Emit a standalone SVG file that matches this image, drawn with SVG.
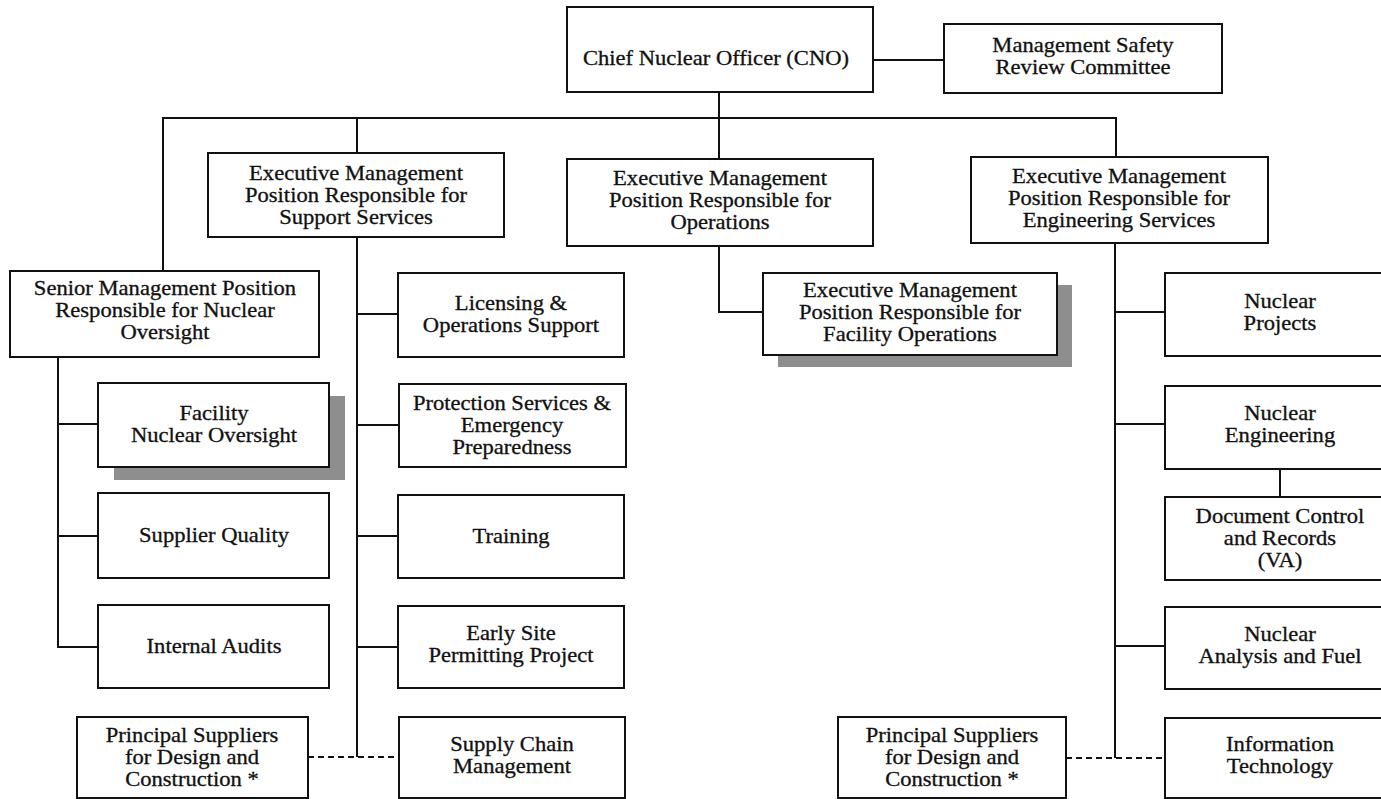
<svg xmlns="http://www.w3.org/2000/svg" width="1381" height="799" viewBox="0 0 1381 799">
<style>
.b{fill:#fff;stroke:#111;stroke-width:2}
.sh{fill:#8e8e8e;stroke:none}
.c{fill:none;stroke:#111;stroke-width:2}
.d{fill:none;stroke:#111;stroke-width:2;stroke-dasharray:6 4}
text{font-family:"Liberation Serif","Times New Roman",serif;font-size:20px;fill:#111;stroke:#111;stroke-width:0.3;text-anchor:middle}
</style>
<rect width="1381" height="799" fill="#fff"/>
<g id="connectors">
<path class="c" d="M873 60H944"/>
<path class="c" d="M719 92V159"/>
<path class="c" d="M163 271V118H1116V157"/>
<path class="c" d="M357 118V153"/>
<path class="c" d="M357 237V757"/>
<path class="c" d="M357 314H398M357 425H399M357 536H398M357 647H398"/>
<path class="d" d="M308 757H399"/>
<path class="c" d="M58 357V647H98M58 424H98M58 536H98"/>
<path class="c" d="M719 246V312H763"/>
<path class="c" d="M1115 243V758"/>
<path class="c" d="M1115 312H1165M1115 424H1165M1115 646H1165"/>
<path class="c" d="M1280 469V497"/>
<path class="d" d="M1066 758H1165"/>
</g>
<g id="cno"><rect class="b" x="567" y="7" width="306" height="85"/>
<g transform="translate(716 0) scale(1.13 1)"><text><tspan x="0" y="65">Chief Nuclear Officer (CNO)</tspan></text></g></g>
<g id="msrc"><rect class="b" x="944" y="24" width="278" height="69"/>
<g transform="translate(1083 0) scale(1.13 1)"><text><tspan x="0" y="52">Management Safety</tspan><tspan x="0" y="74">Review Committee</tspan></text></g></g>
<g id="support"><rect class="b" x="208" y="153" width="296" height="84"/>
<g transform="translate(356 0) scale(1.13 1)"><text><tspan x="0" y="180">Executive Management</tspan><tspan x="0" y="202">Position Responsible for</tspan><tspan x="0" y="224">Support Services</tspan></text></g></g>
<g id="operations"><rect class="b" x="567" y="159" width="306" height="87"/>
<g transform="translate(720 0) scale(1.13 1)"><text><tspan x="0" y="185">Executive Management</tspan><tspan x="0" y="207">Position Responsible for</tspan><tspan x="0" y="229">Operations</tspan></text></g></g>
<g id="engineering"><rect class="b" x="971" y="157" width="297" height="86"/>
<g transform="translate(1119 0) scale(1.13 1)"><text><tspan x="0" y="183">Executive Management</tspan><tspan x="0" y="205">Position Responsible for</tspan><tspan x="0" y="227">Engineering Services</tspan></text></g></g>
<g id="senior"><rect class="b" x="10" y="271" width="309" height="86"/>
<g transform="translate(165 0) scale(1.13 1)"><text><tspan x="0" y="295">Senior Management Position</tspan><tspan x="0" y="317">Responsible for Nuclear</tspan><tspan x="0" y="339">Oversight</tspan></text></g></g>
<g id="licensing"><rect class="b" x="398" y="273" width="226" height="84"/>
<g transform="translate(511 0) scale(1.13 1)"><text><tspan x="0" y="310">Licensing &amp;</tspan><tspan x="0" y="332">Operations Support</tspan></text></g></g>
<g id="facility-ops"><rect class="sh" x="778" y="285" width="294" height="82"/><rect class="b" x="763" y="273" width="294" height="82"/>
<g transform="translate(910 0) scale(1.13 1)"><text><tspan x="0" y="297">Executive Management</tspan><tspan x="0" y="319">Position Responsible for</tspan><tspan x="0" y="341">Facility Operations</tspan></text></g></g>
<g id="nuclear-projects"><rect class="b" x="1165" y="273" width="230" height="83"/>
<g transform="translate(1280 0) scale(1.13 1)"><text><tspan x="0" y="308">Nuclear</tspan><tspan x="0" y="330">Projects</tspan></text></g></g>
<g id="facility-oversight"><rect class="sh" x="114" y="396" width="231" height="84"/><rect class="b" x="98" y="383" width="231" height="84"/>
<g transform="translate(214 0) scale(1.13 1)"><text><tspan x="0" y="420">Facility</tspan><tspan x="0" y="442">Nuclear Oversight</tspan></text></g></g>
<g id="protection"><rect class="b" x="399" y="384" width="227" height="83"/>
<g transform="translate(512 0) scale(1.13 1)"><text><tspan x="0" y="410">Protection Services &amp;</tspan><tspan x="0" y="432">Emergency</tspan><tspan x="0" y="454">Preparedness</tspan></text></g></g>
<g id="nuclear-engineering"><rect class="b" x="1165" y="386" width="230" height="83"/>
<g transform="translate(1280 0) scale(1.13 1)"><text><tspan x="0" y="420">Nuclear</tspan><tspan x="0" y="442">Engineering</tspan></text></g></g>
<g id="supplier-quality"><rect class="b" x="98" y="493" width="231" height="85"/>
<g transform="translate(214 0) scale(1.13 1)"><text><tspan x="0" y="542">Supplier Quality</tspan></text></g></g>
<g id="training"><rect class="b" x="398" y="495" width="226" height="83"/>
<g transform="translate(511 0) scale(1.13 1)"><text><tspan x="0" y="543">Training</tspan></text></g></g>
<g id="doc-control"><rect class="b" x="1165" y="497" width="230" height="83"/>
<g transform="translate(1280 0) scale(1.13 1)"><text><tspan x="0" y="523">Document Control</tspan><tspan x="0" y="545">and Records</tspan><tspan x="0" y="567">(VA)</tspan></text></g></g>
<g id="internal-audits"><rect class="b" x="98" y="605" width="231" height="83"/>
<g transform="translate(214 0) scale(1.13 1)"><text><tspan x="0" y="653">Internal Audits</tspan></text></g></g>
<g id="early-site"><rect class="b" x="398" y="606" width="226" height="82"/>
<g transform="translate(511 0) scale(1.13 1)"><text><tspan x="0" y="640">Early Site</tspan><tspan x="0" y="662">Permitting Project</tspan></text></g></g>
<g id="nuclear-analysis"><rect class="b" x="1165" y="607" width="230" height="82"/>
<g transform="translate(1280 0) scale(1.13 1)"><text><tspan x="0" y="641">Nuclear</tspan><tspan x="0" y="663">Analysis and Fuel</tspan></text></g></g>
<g id="suppliers-left"><rect class="b" x="77" y="717" width="231" height="81"/>
<g transform="translate(192 0) scale(1.13 1)"><text><tspan x="0" y="742">Principal Suppliers</tspan><tspan x="0" y="764">for Design and</tspan><tspan x="0" y="786">Construction *</tspan></text></g></g>
<g id="supply-chain"><rect class="b" x="399" y="717" width="226" height="81"/>
<g transform="translate(512 0) scale(1.13 1)"><text><tspan x="0" y="751">Supply Chain</tspan><tspan x="0" y="773">Management</tspan></text></g></g>
<g id="suppliers-right"><rect class="b" x="838" y="717" width="228" height="81"/>
<g transform="translate(952 0) scale(1.13 1)"><text><tspan x="0" y="742">Principal Suppliers</tspan><tspan x="0" y="764">for Design and</tspan><tspan x="0" y="786">Construction *</tspan></text></g></g>
<g id="it"><rect class="b" x="1165" y="718" width="230" height="80"/>
<g transform="translate(1280 0) scale(1.13 1)"><text><tspan x="0" y="751">Information</tspan><tspan x="0" y="773">Technology</tspan></text></g></g>
</svg>
